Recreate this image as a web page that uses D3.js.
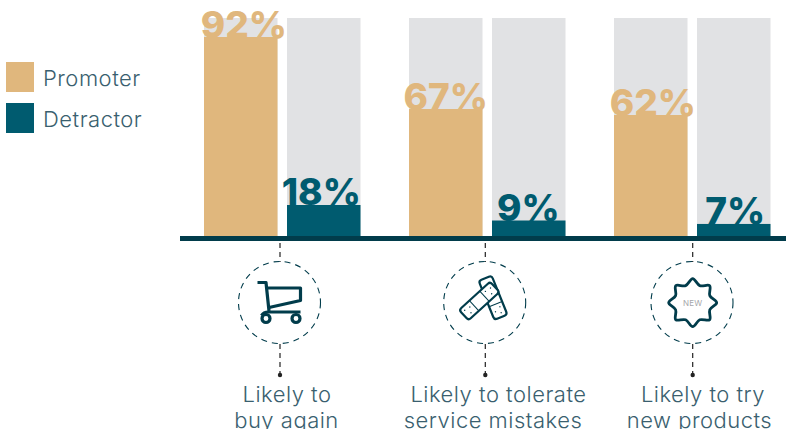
<!DOCTYPE html>
<html><head><meta charset="utf-8">
<script src="https://cdn.jsdelivr.net/npm/d3@7"></script>
<style>html,body{margin:0;background:#fff}svg{display:block}</style></head>
<body><svg id="c" width="786" height="434"></svg>
<script>
const categories = ["buy","tolerate","try"];
const promoter = [92, 67, 62];
const detractor = [18, 9, 7];
const seriesNames = ["Promoter", "Detractor"];
const captions = [["Likely to","buy again"],["Likely to tolerate","service mistakes"],["Likely to try","new products"]];

const TAN="#e0b77d", TEAL="#005b6f", GREY="#e1e2e4", DARK="#013c4b", TXT="#3a5f6f";
const svg=d3.select("#c");
const base=236;
// bar heights are not proportional in this design, so the value scale is piecewise
const h=d3.scaleLinear().domain([0,18,62,67,92,100]).range([0,31,121,127,199,218]);
const y=v=>base-h(v);
const x=d3.scaleOrdinal().domain(categories).range([204,409,614]);
const barW=73.5, step=83;
const mid=d3.scaleOrdinal().domain(categories).range([280,485.3,692.7]);
const ringMid=d3.scaleOrdinal().domain(categories).range([279.5,484.7,692]);
// small optical shifts of the big percentage labels
const nudge=[[3,-2.5],[0,-0.5],[2,1.5]];
// each caption line is centred on its own point
const captionMid=[[287,286.5],[498.5,493],[703,699.5]];

categories.forEach((c,i)=>{
  [[promoter[i],TAN],[detractor[i],TEAL]].forEach(([v,col],j)=>{
    const bx=x(c)+j*step;
    svg.append("rect").attr("x",bx).attr("y",y(100)).attr("width",barW).attr("height",h(100)).attr("fill",GREY);
    svg.append("rect").attr("x",bx).attr("y",y(v)).attr("width",barW).attr("height",h(v)).attr("fill",col);
    svg.append("text").attr("x",bx+barW/2+nudge[i][j]).attr("y",y(v)+(j?0:1)).attr("text-anchor","middle")
      .attr("font-family","Inter").attr("font-weight",800).attr("font-size",37).attr("fill",col).text(v+"%");
  });
});
svg.append("rect").attr("x",180).attr("y",236).attr("width",606).attr("height",5).attr("fill",DARK);

const label=(sel)=>sel.attr("font-family","Inter").attr("font-weight",300).attr("font-size",22)
  .attr("letter-spacing",0.5).attr("fill",TXT);

// legend
seriesNames.forEach((n,i)=>{
  svg.append("rect").attr("x",6).attr("y",62+i*41).attr("width",28).attr("height",30).attr("fill",i?TEAL:TAN);
  label(svg.append("text")).attr("x",43).attr("y",85.5+i*41).text(n);
});

// connector, ring and caption below each group
categories.forEach((c,i)=>{
  const g=svg.append("g").attr("transform",`translate(${mid(c)},0)`);
  g.append("line").attr("y1",243).attr("y2",262).attr("stroke","#222").attr("stroke-width",1.2).attr("stroke-dasharray","5 4");
  g.append("line").attr("y1",344).attr("y2",375).attr("stroke","#222").attr("stroke-width",1.2).attr("stroke-dasharray","5 4");
  g.append("circle").attr("cy",375).attr("r",2.2).attr("fill","#222");
  captions[i].forEach((t,k)=>label(svg.append("text")).attr("x",captionMid[i][k]).attr("y",402+k*25.5).attr("text-anchor","middle").text(t));
  svg.append("circle").attr("cx",ringMid(c)).attr("cy",302.5).attr("r",41).attr("fill","none").attr("stroke",DARK).attr("stroke-width",1.1).attr("stroke-dasharray","6 5");
});

// shopping cart icon
const cart=svg.append("g").attr("transform",`translate(${ringMid("buy")},302.5)`)
  .attr("fill","none").attr("stroke",DARK).attr("stroke-width",3.2).attr("stroke-linejoin","round");
cart.append("path").attr("d","M-22,-20H-13.5L-10.5,8.5");
cart.append("path").attr("d","M-12.5,-14.5H21V-2L-10.5,5");
cart.append("path").attr("d","M-18,13Q-16,9.5 -11,9.5H21");
cart.append("circle").attr("cx",-13.5).attr("cy",16).attr("r",4);
cart.append("circle").attr("cx",16.5).attr("cy",16).attr("r",4);

// crossed bandage icon
const plaster=(cx,cy,rot,dots,parts)=>{
  const p=svg.append("g").attr("transform",`translate(${cx},${cy}) rotate(${rot})`);
  p.append("rect").attr("x",-21).attr("y",-7).attr("width",42).attr("height",14).attr("rx",3)
    .attr("fill","#fff").attr("stroke",DARK).attr("stroke-width",2.2);
  parts.forEach(d=>p.append("line").attr("x1",d).attr("x2",d).attr("y1",-7).attr("y2",7).attr("stroke",DARK).attr("stroke-width",1));
  dots.forEach(e=>[[-3,-3],[3,-2],[0,3]].forEach(o=>
    p.append("circle").attr("cx",e+o[0]).attr("cy",o[1]).attr("r",0.7).attr("fill",DARK)));
};
plaster(493,297.7,68,[14],[7]);
plaster(479.3,301,-42.4,[-14,14],[-7,7]);

// badge icon with wavy edge
const badgePts=d3.range(16).map(k=>[k*Math.PI/8,k%2?18.5:24]);
svg.append("path").attr("transform","translate(692.7,302.7)")
  .attr("d",d3.lineRadial().curve(d3.curveCardinalClosed.tension(0))(badgePts))
  .attr("fill","none").attr("stroke",DARK).attr("stroke-width",2.8);
svg.append("text").attr("x",692.7).attr("y",305.5).attr("text-anchor","middle").attr("font-family","Inter")
  .attr("font-size",8).attr("letter-spacing",0.3).attr("fill","#a5a7aa").text("NEW");

// the artwork ends just under the second caption line
svg.append("rect").attr("x",0).attr("y",429).attr("width",786).attr("height",5).attr("fill","#fff");
</script></body></html>
